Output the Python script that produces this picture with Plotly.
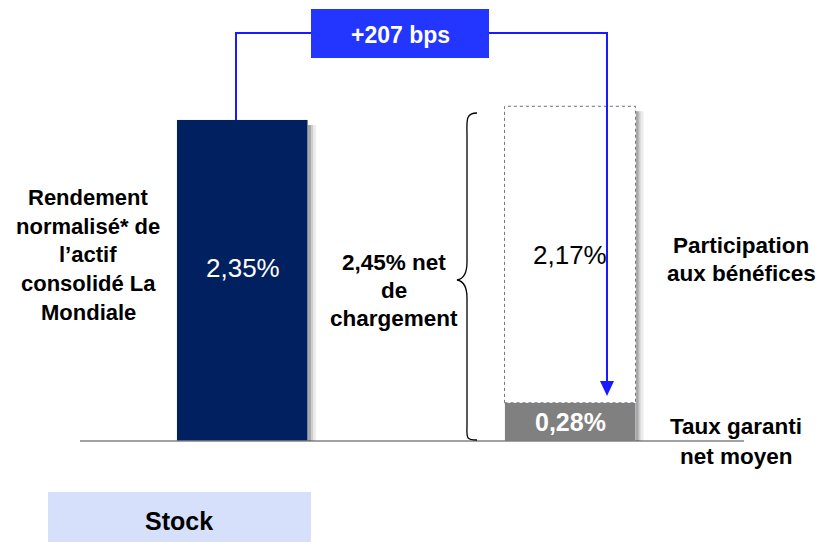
import plotly.graph_objects as go

# data
categories = ['Rendement', 'Taux']
rendement = [2.35, None]
taux_garanti = [None, 0.28]
participation = [None, 2.17]
ecart_bps = 207

W, H = 824, 542
BASE = 441                      # pixel row of the zero line
SCALE = (BASE - 120) / 2.35     # pixels per percentage point
STEP = 327.5                    # pixels between the two bar centres
X0 = 242.5                      # pixel column of the first bar centre


def px(x):
    return x / W


def py(y):
    return 1 - y / H


def fmt(v):
    return ('%.2f%%' % v).replace('.', ',')


FONT = 'Liberation Sans, Arial, sans-serif'

fig = go.Figure()
fig.add_trace(go.Bar(x=categories, y=rendement, width=0.4, marker_color='#002060', name='rendement'))
fig.add_trace(go.Bar(x=categories, y=taux_garanti, width=0.4, marker_color='#808080', name='taux'))
fig.add_trace(go.Bar(x=categories, y=participation, width=0.4, marker_color='white', name='pb'))

total = taux_garanti[1] + participation[1]
shapes = []

# soft shadows to the right of the bars
for i, top in [(0, rendement[0]), (1, total)]:
    for off, op in [(8, 0.08), (5, 0.12), (3, 0.18)]:
        shapes.append(dict(type='rect', xref='x', yref='y', layer='below',
                           x0=i + 0.2, x1=i + 0.2 + off / STEP, y0=0, y1=top - 5 / SCALE,
                           fillcolor='rgba(0,0,0,%s)' % op, line_width=0))

# dotted outline of the participation block
shapes.append(dict(type='rect', xref='x', yref='y', x0=0.8, x1=1.2,
                   y0=taux_garanti[1], y1=total,
                   line=dict(color='#777777', width=1, dash='dot')))

# baseline
shapes.append(dict(type='line', xref='paper', yref='y', x0=px(80), x1=px(744), y0=0, y1=0,
                   line=dict(color='#444444', width=1.2)))

# brace
brace = [(477, 113), (465, 113), (467, 121), (467, 136), (467, 262), (467, 275), (463, 279), (457, 280),
         (463, 281), (467, 285), (467, 298), (467, 424), (467, 437), (465, 440), (477, 440)]
b = [(px(x), py(y)) for x, y in brace]
path = 'M %f %f C %f %f %f %f %f %f L %f %f C %f %f %f %f %f %f C %f %f %f %f %f %f L %f %f C %f %f %f %f %f %f' % tuple(
    v for p in b for v in p)
shapes.append(dict(type='path', xref='paper', yref='paper', path=path,
                   line=dict(color='black', width=1.3)))

# connector with arrow
y_top = py(33)
arrow_x = px(607)
shapes.append(dict(type='path', xref='paper', yref='paper',
                   path='M %f %f L %f %f L %f %f L %f %f' % (px(236), py(120), px(236), y_top,
                                                             arrow_x, y_top, arrow_x, py(382)),
                   line=dict(color='#1a1aff', width=2)))
shapes.append(dict(type='path', xref='paper', yref='paper',
                   path='M %f %f L %f %f L %f %f Z' % (px(600), py(381), px(614), py(381), arrow_x, py(396)),
                   fillcolor='#1a1aff', line_width=0))
shapes.append(dict(type='rect', xref='paper', yref='paper', x0=px(311), x1=px(489), y0=py(9), y1=py(58),
                   fillcolor='#2336ff', line_width=0))

# Stock box
shapes.append(dict(type='rect', xref='paper', yref='paper', x0=px(48), x1=px(311), y0=py(492), y1=py(542),
                   fillcolor='#d6e0fa', line_width=0))

annotations = []


def label(text, x, y, size=22.5, bold=True, color='black'):
    if bold:
        text = '<b>%s</b>' % text
    annotations.append(dict(text=text, x=px(x), y=py(y), xref='paper', yref='paper',
                            showarrow=False, xanchor='center', yanchor='middle',
                            font=dict(family=FONT, size=size, color=color)))


for i, t in enumerate(['Rendement', 'normalisé* de', 'l’actif', 'consolidé La', 'Mondiale']):
    label(t, 88, 198 + i * 28.5, size=22)
for i, t in enumerate([fmt(total) + ' net', 'de', 'chargement']):
    label(t, 394, 262 + i * 28)
for i, t in enumerate(['Participation', 'aux bénéfices']):
    label(t, 741, 245 + i * 28)
for i, t in enumerate(['Taux garanti', 'net moyen']):
    label(t, 736, 426 + i * 30)
label('+%d bps' % ecart_bps, 400, 35, size=23, color='white')
label('Stock', 179, 521, size=25)

# value labels placed through the data axes
annotations.append(dict(text=fmt(rendement[0]), x=0, y=rendement[0] * 0.54, xref='x', yref='y',
                        showarrow=False, font=dict(family=FONT, size=26, color='white')))
annotations.append(dict(text=fmt(participation[1]), x=1, y=taux_garanti[1] + participation[1] * 0.5,
                        xref='x', yref='y', showarrow=False, font=dict(family=FONT, size=26, color='black')))
annotations.append(dict(text='<b>%s</b>' % fmt(taux_garanti[1]), x=1, y=taux_garanti[1] * 0.5,
                        xref='x', yref='y', showarrow=False, font=dict(family=FONT, size=25, color='white')))

fig.update_layout(
    width=W, height=H, margin=dict(l=0, r=0, t=0, b=0),
    paper_bgcolor='white', plot_bgcolor='white',
    barmode='stack', bargap=0, showlegend=False,
    shapes=shapes, annotations=annotations,
    xaxis=dict(range=[-X0 / STEP, (W - X0) / STEP], visible=False, fixedrange=True),
    yaxis=dict(range=[-(H - BASE) / SCALE, BASE / SCALE], visible=False, fixedrange=True),
)

fig.write_html('out.html', config={'displayModeBar': False},
               post_script="document.body.style.margin = '0';")
